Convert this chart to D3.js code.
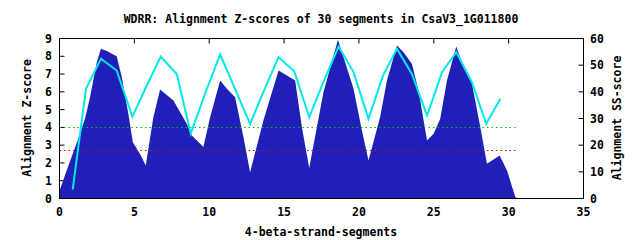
<!DOCTYPE html>
<html>
<head>
<meta charset="utf-8">
<script src="https://cdn.jsdelivr.net/npm/d3@7"></script>
<style>
  body { margin: 0; background: #fff; }
  text { font-family: "DejaVu Sans Mono", monospace; font-size: 11.5px; font-weight: bold; fill: #000; }
</style>
</head>
<body>
<div id="chart"></div>
<script>
// Z-score profile (filled area)
const zX = [0, 0.03, 0.48, 1.26, 1.7, 2.04, 2.49, 2.77, 3.16, 3.82, 4.16, 4.6, 4.9, 5.38, 5.76,
  6.27, 6.72, 7.61, 8.5, 8.84, 9.61, 10.06, 10.73, 11.18, 11.73, 12.29, 12.73, 13.62, 14.63,
  15.19, 15.74, 16.19, 16.68, 17.63, 18.6, 19.64, 20.2, 20.64, 21.42, 21.87, 22.54, 22.98,
  23.54, 23.98, 24.55, 24.99, 25.43, 25.88, 26.5, 26.99, 27.55, 28.11, 28.55, 29.4, 29.89,
  30.45, 30.7];
const zY = [0, 0.5, 1.57, 3.37, 4.48, 5.7, 7.67, 8.42, 8.29, 8.0, 6.82, 4.76, 3.17, 2.51, 1.86,
  4.57, 6.13, 5.51, 4.2, 3.54, 2.89, 4.57, 6.64, 6.17, 5.7, 3.45, 1.48, 4.39, 7.2,
  6.92, 6.64, 4.01, 1.72, 5.98, 8.93, 6.17, 3.82, 2.14, 4.6, 6.64, 8.6, 8.23,
  7.57, 6.07, 3.26, 3.64, 4.48, 6.64, 8.55, 7.38, 6.45, 4.01, 1.95, 2.42, 1.57,
  0.07, 0];

// SS-score per segment (right axis)
const ssX = [0.88, 1.77, 2.77, 3.82, 4.87, 5.8, 6.76, 7.83, 8.77, 9.7, 10.73, 11.73, 12.73, 13.7,
  14.63, 15.68, 16.68, 17.65, 18.64, 19.64, 20.64, 21.6, 22.54, 23.54, 24.55, 25.55, 26.5,
  27.55, 28.5, 29.45];
const ssY = [3.3, 41.1, 52.4, 48, 30.7, 42, 53.2, 46.7, 24.3, 39, 54, 41, 28, 41,
  53, 47.7, 30.5, 44, 57, 47.4, 29.9, 46, 56.1, 46.7, 31.1, 47.4, 54.9,
  43.6, 28, 37.4];

// threshold lines (Z-score)
const thresholds = [4.0, 2.75];
const thresholdColors = ["#00c000", "#e00000"];
const thresholdEnd = 30.5;

const xTicks = [0, 5, 10, 15, 20, 25, 30, 35];
const yTicks = [0, 1, 2, 3, 4, 5, 6, 7, 8, 9];
const y2Ticks = [0, 10, 20, 30, 40, 50, 60];

const width = 640, height = 240;
const svg = d3.select("#chart").append("svg")
  .attr("width", width)
  .attr("height", height);

const x = d3.scaleLinear().domain([0, 35]).range([59.5, 583.5]);
const y = d3.scaleLinear().domain([0, 9]).range([198.5, 38.5]);
const y2 = d3.scaleLinear().domain([0, 60]).range([198.5, 38.5]);

// ticks (inside, mirrored on top for x)
const ticks = svg.append("g").attr("stroke", "#000").attr("stroke-width", 1);
xTicks.forEach(t => {
  ticks.append("line").attr("x1", x(t)).attr("x2", x(t)).attr("y1", 198.5).attr("y2", 193.5);
  ticks.append("line").attr("x1", x(t)).attr("x2", x(t)).attr("y1", 38.5).attr("y2", 43.5);
});
yTicks.forEach(t => {
  ticks.append("line").attr("x1", 59.5).attr("x2", 64.5).attr("y1", y(t)).attr("y2", y(t));
});
y2Ticks.forEach(t => {
  ticks.append("line").attr("x1", 583.5).attr("x2", 578.5).attr("y1", y2(t)).attr("y2", y2(t));
});

// filled Z-score area
const zData = zX.map((d, i) => ({ x: d, y: zY[i] }));
svg.append("path")
  .datum(zData)
  .attr("fill", "#2020b8")
  .attr("d", d3.area().x(d => x(d.x)).y0(y(0)).y1(d => y(d.y)));

// threshold dotted lines
thresholds.forEach((t, i) => {
  svg.append("line")
    .attr("x1", x(0)).attr("x2", x(thresholdEnd))
    .attr("y1", Math.round(y(t)) + 0.5).attr("y2", Math.round(y(t)) + 0.5)
    .attr("stroke", thresholdColors[i])
    .attr("stroke-width", 1.2)
    .attr("stroke-dasharray", "1.5,3");
});

// SS-score line
const ssData = ssX.map((d, i) => ({ x: d, y: ssY[i] }));
svg.append("path")
  .datum(ssData)
  .attr("fill", "none")
  .attr("stroke", "#00e8e8")
  .attr("stroke-width", 2)
  .attr("d", d3.line().x(d => x(d.x)).y(d => y2(d.y)));

// border
svg.append("rect")
  .attr("x", 59.5).attr("y", 38.5)
  .attr("width", 524).attr("height", 160)
  .attr("fill", "none").attr("stroke", "#000");

// tick labels
xTicks.forEach(t => {
  svg.append("text").attr("x", x(t)).attr("y", 216).attr("text-anchor", "middle").text(t);
});
yTicks.forEach(t => {
  svg.append("text").attr("x", 52).attr("y", y(t) + 4).attr("text-anchor", "end").text(t);
});
y2Ticks.forEach(t => {
  svg.append("text").attr("x", 590).attr("y", y2(t) + 4).attr("text-anchor", "start").text(t);
});

// titles
svg.append("text").attr("x", 321).attr("y", 23).attr("text-anchor", "middle")
  .text("WDRR: Alignment Z-scores of 30 segments in CsaV3_1G011800");
svg.append("text").attr("x", 321).attr("y", 236).attr("text-anchor", "middle")
  .text("4-beta-strand-segments");
svg.append("text").attr("transform", "translate(31,118) rotate(-90)").attr("text-anchor", "middle")
  .text("Alignment Z-score");
svg.append("text").attr("transform", "translate(621,118) rotate(-90)").attr("text-anchor", "middle")
  .text("Alignment SS-score");
</script>
</body>
</html>
